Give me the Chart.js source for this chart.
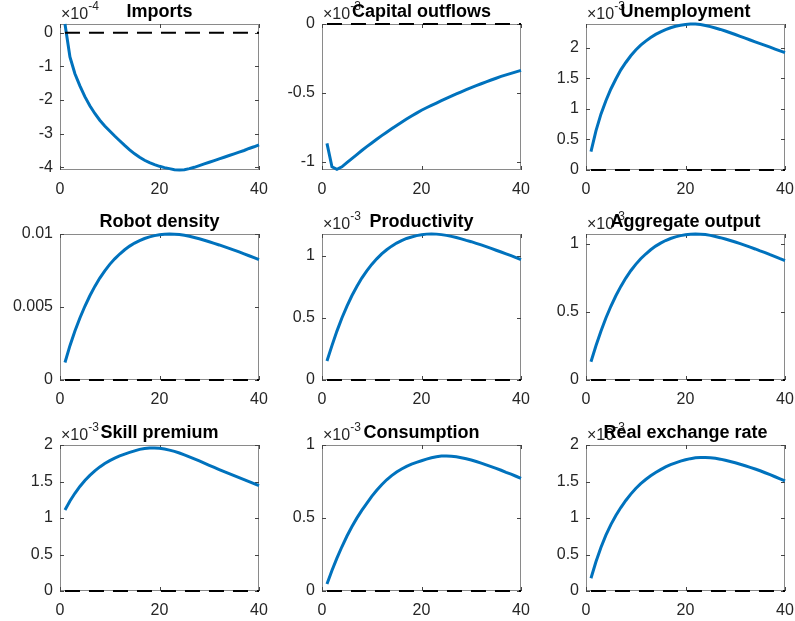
<!DOCTYPE html>
<html><head><meta charset="utf-8">
<script src="https://cdn.jsdelivr.net/npm/chart.js@4.4.1/dist/chart.umd.min.js"></script>
<style>
body{margin:0;background:#fff}
#wrap{position:relative;width:795px;height:621px;overflow:hidden;background:#fff}
#wrap canvas{position:absolute}
</style></head><body><div id="wrap"></div>
<script>
// ══════════════════════════════════════
//  DATA
// ══════════════════════════════════════
const periods=[1,2,3,4,5,6,7,8,9,10,11,12,13,14,15,16,17,18,19,20,21,22,23,24,25,26,27,28,29,30,31,32,33,34,35,36,37,38,39,40];
const baseline=0;
const titles=['Imports','Capital outflows','Unemployment','Robot density','Productivity','Aggregate output','Skill premium','Consumption','Real exchange rate'];
const exponents=[-4,-3,-3,null,-3,-3,-3,-3,-3];
const imports=[0.26,-0.72,-1.22,-1.58,-1.90,-2.17,-2.40,-2.60,-2.77,-2.92,-3.07,-3.21,-3.35,-3.48,-3.60,-3.70,-3.79,-3.86,-3.92,-3.97,-4.01,-4.04,-4.07,-4.08,-4.07,-4.04,-4.00,-3.95,-3.90,-3.85,-3.80,-3.75,-3.70,-3.65,-3.60,-3.55,-3.50,-3.44,-3.39,-3.33];
const capitalOutflows=[-0.865,-1.035,-1.053,-1.035,-1.005,-0.975,-0.946,-0.917,-0.889,-0.862,-0.835,-0.809,-0.784,-0.759,-0.735,-0.712,-0.689,-0.667,-0.646,-0.625,-0.607,-0.590,-0.573,-0.556,-0.539,-0.523,-0.507,-0.491,-0.476,-0.461,-0.447,-0.433,-0.419,-0.406,-0.393,-0.380,-0.369,-0.358,-0.347,-0.336];
const unemployment=[0.300,0.640,0.915,1.134,1.326,1.490,1.640,1.760,1.870,1.965,2.045,2.110,2.170,2.220,2.262,2.298,2.328,2.352,2.370,2.383,2.390,2.389,2.380,2.366,2.347,2.325,2.301,2.275,2.247,2.218,2.188,2.158,2.128,2.098,2.070,2.040,2.010,1.980,1.950,1.920];
const robotDensity=[0.00120,0.00235,0.00335,0.00425,0.00505,0.00577,0.00641,0.00698,0.00748,0.00792,0.00830,0.00863,0.00892,0.00917,0.00938,0.00955,0.00969,0.00980,0.00989,0.00995,0.00999,0.01000,0.00999,0.00996,0.00991,0.00984,0.00976,0.00967,0.00957,0.00947,0.00936,0.00925,0.00913,0.00901,0.00889,0.00877,0.00864,0.00851,0.00838,0.00825];
const productivity=[0.153,0.277,0.394,0.500,0.594,0.679,0.754,0.822,0.880,0.932,0.977,1.016,1.050,1.079,1.104,1.124,1.141,1.153,1.164,1.171,1.176,1.177,1.176,1.172,1.166,1.158,1.149,1.138,1.126,1.115,1.102,1.089,1.075,1.061,1.046,1.032,1.017,1.002,0.986,0.970];
const aggregateOutput=[0.134,0.252,0.359,0.456,0.542,0.619,0.688,0.749,0.803,0.850,0.891,0.926,0.957,0.984,1.006,1.025,1.040,1.052,1.061,1.068,1.072,1.073,1.072,1.069,1.063,1.055,1.046,1.036,1.025,1.014,1.002,0.989,0.976,0.963,0.949,0.936,0.921,0.907,0.892,0.878];
const skillPremium=[1.110,1.232,1.339,1.432,1.513,1.584,1.646,1.700,1.746,1.786,1.820,1.850,1.876,1.898,1.920,1.940,1.953,1.960,1.960,1.954,1.944,1.930,1.912,1.890,1.865,1.838,1.810,1.781,1.751,1.722,1.693,1.664,1.636,1.608,1.580,1.553,1.526,1.498,1.471,1.444];
const consumption=[0.048,0.140,0.225,0.303,0.375,0.440,0.499,0.552,0.600,0.648,0.690,0.728,0.762,0.790,0.815,0.836,0.854,0.869,0.881,0.892,0.903,0.913,0.920,0.924,0.925,0.923,0.919,0.913,0.906,0.897,0.887,0.876,0.864,0.852,0.840,0.827,0.813,0.800,0.786,0.772];
const realExchangeRate=[0.174,0.400,0.595,0.765,0.910,1.035,1.143,1.240,1.327,1.405,1.470,1.527,1.578,1.623,1.663,1.700,1.730,1.756,1.779,1.798,1.813,1.824,1.829,1.830,1.826,1.819,1.806,1.790,1.775,1.757,1.737,1.716,1.694,1.671,1.647,1.620,1.593,1.565,1.537,1.508];
const series=[imports,capitalOutflows,unemployment,robotDensity,productivity,aggregateOutput,skillPremium,consumption,realExchangeRate];
const yLimits=[[-4.08,0.26],[-1.058,0],[0,2.39],[0,0.01],[0,1.177],[0,1.073],[0,2],[0,1],[0,2]];
const ySteps=[1,0.5,0.5,0.005,0.5,0.5,0.5,0.5,0.5];

// ══════════════════════════════════════
//  LAYOUT
// ══════════════════════════════════════
const colLeft=[60,322,586], rowTop=[24,234,445], PW=199, PH=146;
const PAD_L=60, PAD_T=28, PAD_R=14, PAD_B=32;
const FONT='"Liberation Sans", Arial, Helvetica, sans-serif';
Chart.defaults.font.family=FONT;
Chart.defaults.color='#262626';

const fmtTick=v=>String(Math.round(v*1e6)/1e6);

// box, inward ticks, exponent and title (MATLAB look)
const frame={id:'frame',
  beforeDatasetsDraw(c){
    const {ctx,chartArea:a}=c;
    ctx.save();
    ctx.strokeStyle='#8a8a8a';ctx.lineWidth=1;
    ctx.strokeRect(a.left+.5,a.top+.5,a.width-1,a.height-1);
    ctx.strokeStyle='#444';ctx.beginPath();
    c.scales.y.ticks.forEach(t=>{const p=Math.round(c.scales.y.getPixelForValue(t.value))+.5;
      ctx.moveTo(a.left,p);ctx.lineTo(a.left+4,p);ctx.moveTo(a.right-4,p);ctx.lineTo(a.right,p);});
    c.scales.x.ticks.forEach(t=>{const p=Math.round(c.scales.x.getPixelForValue(t.value))+.5;
      ctx.moveTo(p,a.bottom);ctx.lineTo(p,a.bottom-4);ctx.moveTo(p,a.top);ctx.lineTo(p,a.top+4);});
    ctx.stroke();ctx.restore();
  },
  afterDraw(c,args,o){
    const {ctx,chartArea:a}=c;
    ctx.save();ctx.textBaseline='alphabetic';ctx.textAlign='left';
    if(o.exp!=null){
      ctx.fillStyle='#262626';ctx.font='16px '+FONT;
      ctx.fillText('×10',a.left+1,a.top-5);
      const w=ctx.measureText('×10').width;
      ctx.font='12px '+FONT;ctx.fillText(String(o.exp),a.left+1+w,a.top-14);
    }
    ctx.fillStyle='#000';ctx.font='bold 18px '+FONT;ctx.textAlign='center';
    ctx.fillText(o.title,(a.left+a.right)/2,a.top-7);
    ctx.restore();
  }
};

function drawPanel(i){
  const L=colLeft[i%3], T=rowTop[Math.floor(i/3)];
  const cv=document.createElement('canvas');
  const w=PW+PAD_L+PAD_R, h=PH+PAD_T+PAD_B;
  cv.width=w;cv.height=h;
  cv.style.left=(L-PAD_L)+'px';cv.style.top=(T-PAD_T)+'px';
  cv.style.width=w+'px';cv.style.height=h+'px';
  document.getElementById('wrap').appendChild(cv);
  const [ymin,ymax]=yLimits[i];
  new Chart(cv,{type:'line',
    data:{labels:periods,datasets:[
      {data:[{x:periods[0],y:baseline},{x:periods[periods.length-1],y:baseline}],borderColor:'#000',borderWidth:2,borderDash:[15,9],pointRadius:0,clip:6},
      {data:series[i],borderColor:'#0072bd',borderWidth:3,pointRadius:0,tension:0,clip:6}
    ]},
    options:{responsive:false,animation:false,events:[],devicePixelRatio:1,
      layout:{padding:{top:PAD_T,right:PAD_R,left:0,bottom:0}},
      plugins:{legend:{display:false},tooltip:{enabled:false},frame:{title:titles[i],exp:exponents[i]}},
      scales:{
        x:{type:'linear',min:0,max:40,grid:{display:false,drawTicks:false},border:{display:false},
           ticks:{stepSize:20,padding:10,maxRotation:0,font:{size:16},color:'#262626'},
           afterFit:s=>{s.height=PAD_B;s.paddingLeft=0;s.paddingRight=0;}},
        y:{min:ymin,max:ymax,grid:{display:false,drawTicks:false},border:{display:false},
           ticks:{stepSize:ySteps[i],includeBounds:false,padding:7,font:{size:16},color:'#262626',callback:v=>fmtTick(v)},
           afterFit:s=>{s.width=PAD_L;s.paddingTop=0;s.paddingBottom=0;}}
      }},
    plugins:[frame]});
}
series.forEach((s,i)=>drawPanel(i));
</script></body></html>
